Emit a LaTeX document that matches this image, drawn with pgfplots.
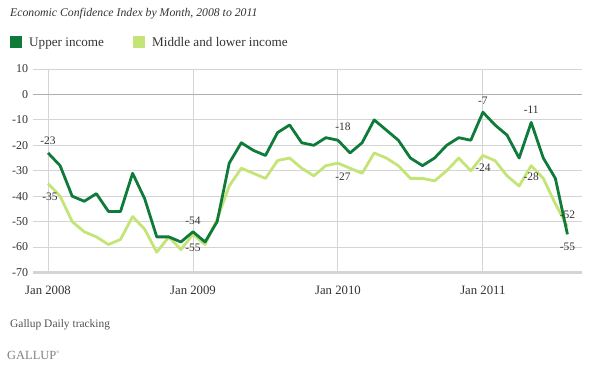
\documentclass[border=0pt]{standalone}
\usepackage{fontspec}
\setmainfont{Liberation Serif}
\usepackage{pgfplots}
\pgfplotsset{compat=1.18}
\definecolor{upper}{HTML}{0E7B3B}
\definecolor{lower}{HTML}{C5E477}
\definecolor{txt}{HTML}{333333}
\definecolor{gridc}{HTML}{D4D4D4}
\definecolor{zeroc}{HTML}{AFAFAF}
\pgfplotstableread{
m up low
0 -23 -35
1 -28 -40
2 -40 -50
3 -42 -54
4 -39 -56
5 -46 -59
6 -46 -57
7 -31 -48
8 -41 -53
9 -56 -62
10 -56 -56
11 -58 -61
12 -54 -55
13 -58 -59
14 -50 -49
15 -27 -36
16 -19 -29
17 -22 -31
18 -24 -33
19 -15 -26
20 -12 -25
21 -19 -29
22 -20 -32
23 -17 -28
24 -18 -27
25 -23 -29
26 -19 -31
27 -10 -23
28 -14 -25
29 -18 -28
30 -25 -33
31 -28 -33
32 -25 -34
33 -20 -30
34 -17 -25
35 -18 -30
36 -7 -24
37 -12 -26
38 -16 -32
39 -25 -36
40 -11 -28
41 -25 -33
42 -33 -43
43 -55 -52
}\data
\begin{document}
\begin{tikzpicture}
\useasboundingbox (0,0) rectangle (589bp,-369bp);
\node[anchor=west, inner sep=0pt, font=\fontsize{11.8}{14}\selectfont\itshape, text=txt] at (10bp,-14bp) {Economic Confidence Index by Month, 2008 to 2011};
\fill[upper] (10bp,-36bp) rectangle (22bp,-48bp);
\node[anchor=base west, inner sep=0pt, font=\fontsize{13.2}{15}\selectfont, text=txt] at (29bp,-46bp) {Upper income};
\fill[lower] (133bp,-36bp) rectangle (145bp,-48bp);
\node[anchor=base west, inner sep=0pt, font=\fontsize{13.2}{15}\selectfont, text=txt] at (152bp,-46bp) {Middle and lower income};
\node[anchor=base west, inner sep=0pt, font=\fontsize{11.5}{13}\selectfont, text=txt!85] at (10bp,-327bp) {Gallup Daily tracking};
\node[anchor=base west, inner sep=0pt, font=\fontsize{12.5}{14}\selectfont, text=gray] at (7bp,-359bp) {GALLUP\raisebox{0.9ex}{\fontsize{4}{4}\selectfont\textregistered}};
\begin{axis}[
  at={(32.7bp,-272.5bp)}, anchor=south west,
  scale only axis, width=549bp, height=203.5bp,
  xmin=-1.27, xmax=44.18, ymin=-70, ymax=10,
  clip=false,
  axis line style={draw=none},
  major tick length=0pt,
  xtick={0,12,24,36},
  xticklabels={Jan 2008,Jan 2009,Jan 2010,Jan 2011},
  ytick={-60,-50,...,10},
  extra y ticks={-70},
  extra y tick style={grid=none},
  xmajorgrids, ymajorgrids,
  grid style={gridc, line width=0.9bp},
  /pgf/number format/assume math mode=true,
  ticklabel style={font=\fontsize{12}{14}\selectfont, text=txt},
  yticklabel style={inner sep=0pt, xshift=-4.5bp},
  xticklabel style={inner sep=0pt, yshift=-13bp, font=\fontsize{12.8}{14}\selectfont},
]
\draw[zeroc, line width=1.3bp] (axis cs:-1.27,0) -- (axis cs:44.18,0);
\draw[gridc, line width=2.2bp] (axis cs:-1.27,-70) -- (axis cs:44.18,-70);
\addplot[lower, line width=2.8bp, line join=round, no markers] table[x=m, y=low] {\data};
\addplot[upper, line width=2.8bp, line join=round, no markers] table[x=m, y=up] {\data};
\begin{scope}[every node/.style={font=\fontsize{11.5}{13}\selectfont, text=txt, inner sep=0pt}]
\node[yshift=12bp] at (axis cs:0,-23) {-23};
\node[yshift=-13bp, xshift=2bp] at (axis cs:0,-35) {-35};
\node[yshift=11bp] at (axis cs:12,-54) {-54};
\node[yshift=-13bp] at (axis cs:12,-55) {-55};
\node[yshift=13bp, xshift=5bp] at (axis cs:24,-18) {-18};
\node[yshift=-14bp, xshift=5bp] at (axis cs:24,-27) {-27};
\node[yshift=11bp] at (axis cs:36,-7) {-7};
\node[yshift=-12bp] at (axis cs:36,-24) {-24};
\node[yshift=13bp] at (axis cs:40,-11) {-11};
\node[yshift=-11bp] at (axis cs:40,-28) {-28};
\node[yshift=12bp] at (axis cs:43,-52) {-52};
\node[yshift=-12bp] at (axis cs:43,-55) {-55};
\end{scope}
\end{axis}
\end{tikzpicture}
\end{document}
